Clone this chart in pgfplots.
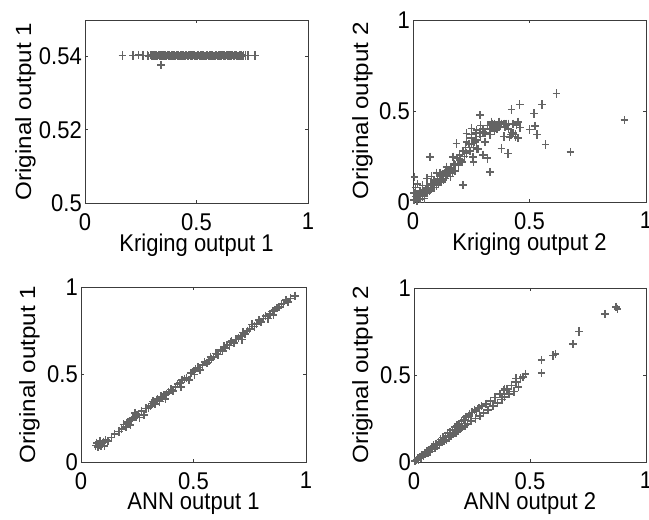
\documentclass[border=0pt]{standalone}
\usepackage{graphicx}
\usepackage{pgfplots}
\pgfplotsset{compat=1.18}
\usepackage{fontspec}
\setmainfont{Liberation Sans}
\definecolor{mk}{RGB}{100,100,100}
\definecolor{ax}{RGB}{60,60,60}
\newcommand{\fs}{\fontsize{22pt}{26pt}\selectfont}
\newsavebox{\chartbox}
\pgfplotsset{
  mat/.style={
    scale only axis,
    anchor=south west,
    xmin=0, xmax=1,
    xtick={0,0.5,1},
    tick align=inside,
    major tick length=3pt,
    axis line style={ax, line width=0.9pt},
    every tick/.style={ax, line width=0.7pt},
    tick label style={font=\fs},
    label style={font=\fs},
    /pgf/number format/assume math mode=true,
    /pgf/number format/fixed,
    xticklabel style={anchor=north, inner sep=0pt, yshift=-9pt},
    yticklabel style={anchor=east, inner sep=0pt, xshift=-3pt},
    xlabel style={at={(axis description cs:0.5,0)}, anchor=north, inner sep=0pt, yshift=-28pt},
  },
  yl/.style={ylabel style={at={(axis description cs:#1,0.5)}, anchor=south, inner sep=0pt}},
  pts/.style={only marks, mark=+, mark size=3.8pt, color=mk, line width=1.5pt},
}
\begin{document}
\begin{lrbox}{\chartbox}%
\begin{tikzpicture}
% Top-left
\begin{axis}[mat, yl=-0.2197, at={(85pt,288.18pt)}, width=223pt, height=166.36pt,
  ymin=0.5, ymax=0.55, ytick={0.5,0.52,0.54},
  xlabel={Kriging output 1}, ylabel={Original output 1}]
\addplot[pts] table {
x y
0.168 0.5403
0.215 0.5403
0.240 0.5404
0.260 0.5403
0.280 0.5403
0.285 0.5402
0.295 0.5404
0.300 0.5403
0.305 0.5402
0.310 0.5404
0.315 0.5403
0.320 0.5403
0.325 0.5402
0.330 0.5404
0.335 0.5403
0.340 0.5403
0.345 0.5402
0.350 0.5404
0.355 0.5403
0.360 0.5403
0.365 0.5402
0.370 0.5404
0.375 0.5403
0.380 0.5403
0.385 0.5402
0.390 0.5404
0.395 0.5403
0.400 0.5403
0.405 0.5402
0.410 0.5404
0.415 0.5403
0.420 0.5403
0.425 0.5402
0.430 0.5404
0.435 0.5403
0.440 0.5403
0.445 0.5402
0.450 0.5403
0.455 0.5404
0.460 0.5402
0.465 0.5403
0.470 0.5404
0.475 0.5402
0.480 0.5403
0.485 0.5404
0.490 0.5403
0.495 0.5402
0.500 0.5402
0.505 0.5403
0.510 0.5404
0.515 0.5402
0.520 0.5403
0.525 0.5404
0.530 0.5403
0.535 0.5402
0.540 0.5402
0.545 0.5403
0.550 0.5404
0.555 0.5402
0.560 0.5403
0.565 0.5404
0.570 0.5403
0.575 0.5402
0.580 0.5402
0.585 0.5403
0.590 0.5404
0.595 0.5402
0.600 0.5403
0.605 0.5403
0.610 0.5402
0.615 0.5404
0.620 0.5403
0.625 0.5403
0.630 0.5402
0.635 0.5404
0.640 0.5403
0.645 0.5403
0.650 0.5402
0.655 0.5403
0.660 0.5404
0.665 0.5402
0.670 0.5403
0.675 0.5404
0.680 0.5403
0.685 0.5402
0.690 0.5402
0.695 0.5403
0.700 0.5404
0.705 0.5402
0.710 0.5403
0.720 0.5403
0.730 0.5403
0.762 0.5403
0.340 0.5377
};
\end{axis}
% Top-right
\begin{axis}[mat, yl=-0.1717, at={(413pt,289.09pt)}, width=233pt, height=165.45pt,
  ymin=0, ymax=1, ytick={0,0.5,1},
  xlabel={Kriging output 2}, ylabel={Original output 2}]
\addplot[pts] table {
x y
0.005 0.010
0.010 0.030
0.015 0.005
0.020 0.020
0.025 0.040
0.030 0.015
0.035 0.050
0.040 0.030
0.045 0.060
0.050 0.040
0.055 0.070
0.060 0.050
0.065 0.080
0.070 0.060
0.075 0.090
0.080 0.070
0.085 0.100
0.090 0.080
0.095 0.110
0.100 0.090
0.105 0.120
0.110 0.100
0.115 0.130
0.120 0.110
0.125 0.140
0.130 0.120
0.135 0.160
0.140 0.130
0.145 0.150
0.150 0.170
0.160 0.140
0.165 0.190
0.170 0.160
0.175 0.210
0.180 0.170
0.190 0.240
0.195 0.200
0.200 0.260
0.210 0.220
0.215 0.280
0.220 0.250
0.225 0.300
0.230 0.270
0.240 0.320
0.245 0.280
0.250 0.350
0.260 0.300
0.265 0.330
0.270 0.380
0.280 0.290
0.290 0.360
0.300 0.400
0.310 0.330
0.320 0.420
0.330 0.370
0.340 0.430
0.350 0.390
0.360 0.420
0.380 0.430
0.390 0.360
0.400 0.430
0.410 0.400
0.430 0.380
0.440 0.360
0.450 0.350
0.020 0.100
0.007 0.138
0.040 0.090
0.060 0.130
0.072 0.248
0.080 0.140
0.100 0.160
0.230 0.330
0.250 0.370
0.270 0.340
0.290 0.420
0.310 0.380
0.330 0.400
0.350 0.430
0.360 0.400
0.370 0.440
0.390 0.430
0.410 0.430
0.420 0.370
0.430 0.430
0.440 0.370
0.450 0.440
0.460 0.410
0.300 0.260
0.320 0.240
0.260 0.220
0.180 0.200
0.160 0.180
0.120 0.150
0.140 0.170
0.090 0.120
0.060 0.090
0.030 0.060
0.010 0.080
0.005 0.050
0.020 0.005
0.050 0.020
0.616 0.596
0.907 0.450
0.676 0.275
0.569 0.316
0.554 0.536
0.533 0.371
0.520 0.486
0.523 0.417
0.501 0.398
0.458 0.536
0.423 0.508
0.444 0.422
0.415 0.358
0.401 0.422
0.394 0.413
0.408 0.266
0.380 0.294
0.370 0.413
0.344 0.413
0.337 0.440
0.287 0.477
0.330 0.165
0.287 0.376
0.301 0.385
0.272 0.394
0.251 0.404
0.229 0.376
0.251 0.321
0.272 0.294
0.229 0.266
0.258 0.248
0.201 0.229
0.186 0.321
0.215 0.092
0.172 0.248
0.143 0.193
0.115 0.156
};
\end{axis}
% Bottom-left
\begin{axis}[mat, yl=-0.1822, at={(81pt,52.73pt)}, width=225pt, height=159.09pt,
  ymin=0, ymax=1, ytick={0,0.5,1},
  xlabel={ANN output 1}, ylabel={Original output 1}]
\addplot[pts] table {
x y
0.065 0.095
0.070 0.110
0.075 0.085
0.080 0.100
0.085 0.120
0.090 0.095
0.095 0.105
0.100 0.115
0.105 0.090
0.110 0.125
0.120 0.120
0.135 0.140
0.150 0.160
0.170 0.175
0.180 0.190
0.190 0.215
0.200 0.200
0.205 0.220
0.210 0.230
0.220 0.210
0.225 0.240
0.230 0.250
0.240 0.280
0.245 0.260
0.250 0.270
0.260 0.255
0.270 0.290
0.280 0.270
0.290 0.305
0.300 0.310
0.310 0.320
0.315 0.335
0.320 0.345
0.330 0.330
0.335 0.355
0.340 0.360
0.350 0.345
0.355 0.375
0.360 0.370
0.370 0.380
0.375 0.360
0.380 0.390
0.390 0.400
0.400 0.415
0.410 0.405
0.420 0.430
0.430 0.445
0.440 0.450
0.445 0.430
0.450 0.470
0.460 0.475
0.470 0.480
0.480 0.470
0.490 0.510
0.500 0.520
0.505 0.500
0.510 0.530
0.520 0.540
0.530 0.525
0.540 0.555
0.550 0.570
0.560 0.565
0.570 0.580
0.575 0.600
0.580 0.590
0.590 0.600
0.600 0.620
0.610 0.615
0.620 0.640
0.630 0.635
0.635 0.660
0.640 0.650
0.650 0.670
0.660 0.665
0.665 0.685
0.670 0.690
0.680 0.680
0.690 0.700
0.700 0.710
0.710 0.720
0.715 0.700
0.720 0.740
0.730 0.730
0.740 0.750
0.750 0.760
0.760 0.785
0.770 0.775
0.780 0.790
0.790 0.810
0.800 0.800
0.810 0.820
0.820 0.835
0.830 0.820
0.840 0.845
0.850 0.860
0.855 0.840
0.860 0.870
0.870 0.880
0.880 0.885
0.890 0.900
0.900 0.905
0.910 0.925
0.920 0.915
0.930 0.935
0.950 0.950
};
\end{axis}
% Bottom-right
\begin{axis}[mat, yl=-0.1767, at={(414pt,52.73pt)}, width=232pt, height=158.18pt,
  ymin=0, ymax=1, ytick={0,0.5,1},
  xlabel={ANN output 2}, ylabel={Original output 2}]
\addplot[pts] table {
x y
0.005 0.005
0.010 0.010
0.015 0.020
0.020 0.015
0.025 0.030
0.030 0.025
0.035 0.040
0.040 0.035
0.045 0.050
0.050 0.045
0.055 0.060
0.060 0.055
0.065 0.070
0.070 0.060
0.075 0.085
0.080 0.075
0.085 0.095
0.090 0.080
0.095 0.105
0.100 0.095
0.105 0.115
0.110 0.100
0.115 0.130
0.120 0.115
0.125 0.140
0.130 0.120
0.135 0.150
0.140 0.130
0.145 0.165
0.150 0.140
0.155 0.170
0.160 0.150
0.165 0.185
0.170 0.160
0.175 0.200
0.180 0.170
0.185 0.210
0.190 0.180
0.195 0.220
0.200 0.190
0.205 0.235
0.210 0.200
0.215 0.245
0.220 0.210
0.225 0.260
0.230 0.220
0.235 0.265
0.240 0.275
0.245 0.235
0.250 0.285
0.260 0.300
0.265 0.250
0.270 0.290
0.280 0.310
0.285 0.265
0.290 0.320
0.300 0.280
0.310 0.335
0.320 0.300
0.330 0.350
0.340 0.320
0.350 0.370
0.360 0.340
0.370 0.390
0.380 0.360
0.385 0.410
0.390 0.375
0.400 0.420
0.410 0.390
0.420 0.440
0.430 0.405
0.440 0.460
0.450 0.430
0.460 0.480
0.470 0.490
0.480 0.505
0.440 0.480
0.390 0.420
0.550 0.510
0.550 0.585
0.600 0.612
0.610 0.620
0.686 0.677
0.712 0.750
0.823 0.850
0.870 0.890
0.878 0.880
};
\end{axis}
\pgfresetboundingbox
\path (0pt,0pt) rectangle (649pt,472.73pt);
\end{tikzpicture}%
\end{lrbox}%
\scalebox{1}[1.1]{\usebox{\chartbox}}%
\end{document}
